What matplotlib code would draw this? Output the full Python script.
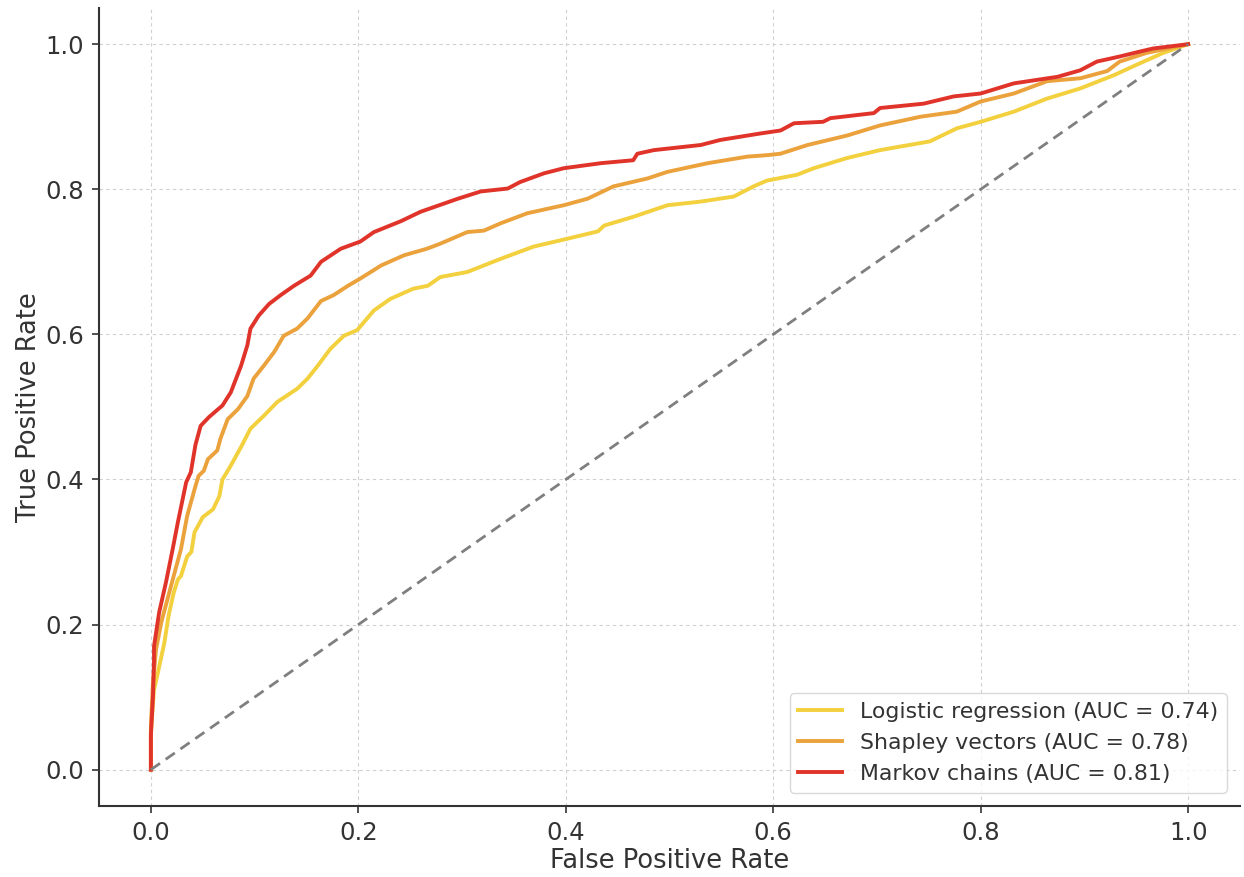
import numpy as np
import matplotlib
matplotlib.use('Agg')
import matplotlib.pyplot as plt

# ROC points
fpr_lr = [0.0, 0.0, 0.003, 0.008, 0.013, 0.017, 0.022, 0.026, 0.029, 0.035, 0.039, 0.042,
          0.050, 0.060, 0.066, 0.069, 0.077, 0.087, 0.096, 0.109, 0.122, 0.141, 0.151,
          0.161, 0.173, 0.186, 0.199, 0.215, 0.231, 0.253, 0.267, 0.279, 0.305, 0.337,
          0.369, 0.402, 0.431, 0.437, 0.465, 0.498, 0.530, 0.562, 0.581, 0.594, 0.623,
          0.639, 0.671, 0.703, 0.751, 0.777, 0.800, 0.832, 0.864, 0.896, 0.928, 0.954,
          0.976, 1.0]
tpr_lr = [0.0, 0.05, 0.110, 0.142, 0.175, 0.212, 0.244, 0.262, 0.267, 0.294, 0.300, 0.327,
          0.348, 0.359, 0.377, 0.400, 0.419, 0.445, 0.470, 0.488, 0.507, 0.525, 0.539,
          0.557, 0.580, 0.598, 0.606, 0.633, 0.649, 0.663, 0.667, 0.679, 0.686, 0.704,
          0.721, 0.732, 0.742, 0.750, 0.762, 0.778, 0.783, 0.790, 0.804, 0.812, 0.820,
          0.829, 0.843, 0.854, 0.866, 0.884, 0.893, 0.907, 0.925, 0.939, 0.957, 0.974,
          0.988, 1.0]

fpr_sv = [0.0, 0.0, 0.002, 0.005, 0.010, 0.016, 0.022, 0.029, 0.035, 0.043, 0.046, 0.051,
          0.055, 0.064, 0.067, 0.074, 0.084, 0.093, 0.099, 0.109, 0.119, 0.128, 0.141,
          0.151, 0.164, 0.176, 0.190, 0.202, 0.222, 0.244, 0.266, 0.279, 0.305, 0.321,
          0.337, 0.363, 0.398, 0.421, 0.446, 0.479, 0.498, 0.537, 0.575, 0.594, 0.607,
          0.633, 0.671, 0.703, 0.742, 0.777, 0.800, 0.832, 0.864, 0.896, 0.922, 0.934,
          0.960, 1.0]
tpr_sv = [0.0, 0.06, 0.120, 0.166, 0.203, 0.235, 0.267, 0.304, 0.350, 0.391, 0.405, 0.412,
          0.428, 0.440, 0.456, 0.483, 0.497, 0.515, 0.539, 0.557, 0.576, 0.598, 0.608,
          0.622, 0.646, 0.654, 0.667, 0.677, 0.695, 0.709, 0.718, 0.725, 0.741, 0.743,
          0.753, 0.767, 0.778, 0.787, 0.804, 0.815, 0.824, 0.836, 0.845, 0.847, 0.849,
          0.861, 0.874, 0.888, 0.900, 0.907, 0.921, 0.932, 0.949, 0.953, 0.963, 0.976,
          0.988, 1.0]

fpr_mc = [0.0, 0.0, 0.002, 0.003, 0.003, 0.008, 0.0145, 0.021, 0.026, 0.034, 0.0385, 0.043,
          0.048, 0.056, 0.069, 0.077, 0.087, 0.093, 0.096, 0.104, 0.114, 0.125, 0.138,
          0.154, 0.164, 0.183, 0.202, 0.215, 0.241, 0.260, 0.296, 0.318, 0.344, 0.356,
          0.379, 0.398, 0.434, 0.465, 0.469, 0.485, 0.530, 0.549, 0.588, 0.607, 0.620,
          0.648, 0.655, 0.697, 0.703, 0.745, 0.774, 0.800, 0.832, 0.874, 0.896, 0.912,
          0.934, 0.954, 0.966, 1.0]
tpr_mc = [0.0, 0.048, 0.100, 0.150, 0.170, 0.217, 0.258, 0.304, 0.341, 0.396, 0.410, 0.448,
          0.474, 0.486, 0.502, 0.520, 0.557, 0.585, 0.608, 0.626, 0.642, 0.654, 0.667,
          0.681, 0.700, 0.718, 0.728, 0.741, 0.756, 0.769, 0.787, 0.797, 0.801, 0.810,
          0.822, 0.829, 0.836, 0.840, 0.849, 0.854, 0.861, 0.868, 0.877, 0.881, 0.891,
          0.893, 0.898, 0.905, 0.912, 0.918, 0.928, 0.932, 0.946, 0.955, 0.964, 0.976,
          0.983, 0.990, 0.994, 1.0]

labels = ['Logistic regression (AUC = 0.74)',
          'Shapley vectors (AUC = 0.78)',
          'Markov chains (AUC = 0.81)']
colors = ['#f3d03e', '#eba23c', '#e0342b']

fig = plt.figure(figsize=(12.44, 8.77), dpi=100, facecolor='white')
ax = fig.add_axes([0.0796, 0.081, 0.9172, 0.91])

for fpr, tpr, lab, col in zip([fpr_lr, fpr_sv, fpr_mc], [tpr_lr, tpr_sv, tpr_mc], labels, colors):
    ax.plot(fpr, tpr, color=col, lw=2.8, label=lab)

ax.plot([0, 1], [0, 1], color='#7f7f7f', lw=2.0, ls=(0, (4, 2.5)))

ax.set_xlim(-0.05, 1.05)
ax.set_ylim(-0.05, 1.05)
ax.set_xticks([0.0, 0.2, 0.4, 0.6, 0.8, 1.0])
ax.set_yticks([0.0, 0.2, 0.4, 0.6, 0.8, 1.0])
ax.grid(True, ls=(0, (3, 3)), lw=0.8, color='#cfcfcf')
ax.set_axisbelow(True)

for s in ['top', 'right']:
    ax.spines[s].set_visible(False)
for s in ['left', 'bottom']:
    ax.spines[s].set_color('#333333')
    ax.spines[s].set_linewidth(1.5)

ax.tick_params(labelsize=17.5, colors='#333333', length=5, width=1.2, pad=6)
ax.set_xlabel('False Positive Rate', fontsize=18.5, color='#333333', labelpad=2)
ax.set_ylabel('True Positive Rate', fontsize=18.5, color='#333333', labelpad=2)

leg = ax.legend(loc='lower right', fontsize=15.8, frameon=True, borderaxespad=0.6)
leg.get_frame().set_edgecolor('#d0d0d0')
for t in leg.get_texts():
    t.set_color('#333333')

fig.savefig('out.png', dpi=100)
